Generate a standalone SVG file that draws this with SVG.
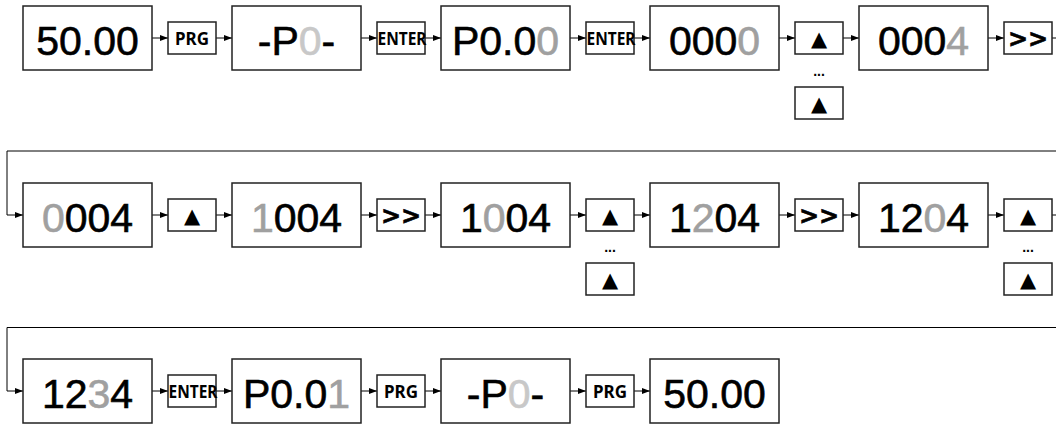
<svg xmlns="http://www.w3.org/2000/svg" width="1056" height="425" viewBox="0 0 1056 425">
<defs>
<marker id="ah" markerUnits="userSpaceOnUse" markerWidth="9" markerHeight="7" refX="8" refY="3" orient="auto"><path d="M0,0 L8,3 L0,6 z" fill="#000"/></marker>
<style>
.bx{fill:#fff;stroke:#222;stroke-width:1.5}
.sb{fill:#fff;stroke:#222;stroke-width:1.5}
.big{font-family:"Liberation Sans",Arial,sans-serif;font-size:41px;fill:#000;stroke:#000;stroke-width:0.6;text-anchor:middle}
.g{fill:#a0a0a0;stroke:#a0a0a0}
.lg{fill:#c8c8c8;stroke:#c8c8c8}
.btn{font-family:"Noto Sans","Open Sans",sans-serif;font-weight:bold;font-size:17px;fill:#000;text-anchor:middle}
.tri{font-family:"DejaVu Sans",sans-serif;font-size:21px;fill:#000;text-anchor:middle}
.chev{font-family:"DejaVu Sans",sans-serif;font-weight:bold;font-size:24px;fill:#000;stroke:#000;stroke-width:0.6;text-anchor:middle}
.dots{font-family:"Liberation Sans",Arial,sans-serif;font-weight:bold;font-size:14px;fill:#000;text-anchor:middle}
.ln{fill:none;stroke:#000;stroke-width:1}
.ar{fill:none;stroke:#000;stroke-width:1;marker-end:url(#ah)}
</style>
</defs>
<g id="connectors">
<line class="ar" x1="152" y1="38" x2="168" y2="38"/>
<line class="ar" x1="216" y1="38" x2="232" y2="38"/>
<line class="ar" x1="361" y1="38" x2="377" y2="38"/>
<line class="ar" x1="425" y1="38" x2="441" y2="38"/>
<line class="ar" x1="570" y1="38" x2="586" y2="38"/>
<line class="ar" x1="634" y1="38" x2="650" y2="38"/>
<line class="ar" x1="779" y1="38" x2="795" y2="38"/>
<line class="ar" x1="843" y1="38" x2="859" y2="38"/>
<line class="ar" x1="988" y1="38" x2="1004" y2="38"/>
<line class="ln" x1="1052" y1="38" x2="1056" y2="38"/>
<polyline class="ar" points="1056,151 7,151 7,215 23,215"/>
<line class="ar" x1="152" y1="215" x2="168" y2="215"/>
<line class="ar" x1="216" y1="215" x2="232" y2="215"/>
<line class="ar" x1="361" y1="215" x2="377" y2="215"/>
<line class="ar" x1="425" y1="215" x2="441" y2="215"/>
<line class="ar" x1="570" y1="215" x2="586" y2="215"/>
<line class="ar" x1="634" y1="215" x2="650" y2="215"/>
<line class="ar" x1="779" y1="215" x2="795" y2="215"/>
<line class="ar" x1="843" y1="215" x2="859" y2="215"/>
<line class="ar" x1="988" y1="215" x2="1004" y2="215"/>
<line class="ln" x1="1052" y1="215" x2="1056" y2="215"/>
<polyline class="ar" points="1056,327.5 7,327.5 7,391 23,391"/>
<line class="ar" x1="152" y1="391" x2="168" y2="391"/>
<line class="ar" x1="216" y1="391" x2="232" y2="391"/>
<line class="ar" x1="361" y1="391" x2="377" y2="391"/>
<line class="ar" x1="425" y1="391" x2="441" y2="391"/>
<line class="ar" x1="570" y1="391" x2="586" y2="391"/>
<line class="ar" x1="634" y1="391" x2="650" y2="391"/>
</g>
<!-- Row 1 -->
<g id="r1n1"><rect class="bx" x="23" y="6" width="129" height="64"/><text class="big" x="87.5" y="55">50.00</text></g>
<g id="r1b1"><rect class="sb" x="168" y="22" width="48" height="32"/><text class="btn" x="192" y="44.5" textLength="34" lengthAdjust="spacingAndGlyphs">PRG</text></g>
<g id="r1n2"><rect class="bx" x="232" y="6" width="129" height="64"/><text class="big" x="296.5" y="55">-P<tspan class="lg">0</tspan>-</text></g>
<g id="r1b2"><rect class="sb" x="377" y="22" width="48" height="32"/><text class="btn" x="402" y="44.5" textLength="49" lengthAdjust="spacingAndGlyphs">ENTER</text></g>
<g id="r1n3"><rect class="bx" x="441" y="6" width="129" height="64"/><text class="big" x="505.5" y="55">P0.0<tspan class="g">0</tspan></text></g>
<g id="r1b3"><rect class="sb" x="586" y="22" width="48" height="32"/><text class="btn" x="611" y="44.5" textLength="49" lengthAdjust="spacingAndGlyphs">ENTER</text></g>
<g id="r1n4"><rect class="bx" x="650" y="6" width="129" height="64"/><text class="big" x="714.5" y="55">000<tspan class="g">0</tspan></text></g>
<g id="r1b4"><rect class="sb" x="795" y="22" width="48" height="32"/><text class="tri" x="819" y="45.5">▲</text></g>
<g id="r1d4"><text class="dots" x="819" y="76">...</text></g>
<g id="r1b4b"><rect class="sb" x="795" y="87" width="48" height="32"/><text class="tri" x="819" y="110.5">▲</text></g>
<g id="r1n5"><rect class="bx" x="859" y="6" width="129" height="64"/><text class="big" x="923.5" y="55">000<tspan class="g">4</tspan></text></g>
<g id="r1b5"><rect class="sb" x="1004" y="22" width="48" height="32"/><text class="chev" x="1028" y="47">&gt;&gt;</text></g>
<!-- Row 2 -->
<g id="r2n1"><rect class="bx" x="23" y="183" width="129" height="64"/><text class="big" x="87.5" y="232"><tspan class="g">0</tspan>004</text></g>
<g id="r2b1"><rect class="sb" x="168" y="199" width="48" height="32"/><text class="tri" x="192" y="222.5">▲</text></g>
<g id="r2n2"><rect class="bx" x="232" y="183" width="129" height="64"/><text class="big" x="296.5" y="232"><tspan class="g">1</tspan>004</text></g>
<g id="r2b2"><rect class="sb" x="377" y="199" width="48" height="32"/><text class="chev" x="401" y="224">&gt;&gt;</text></g>
<g id="r2n3"><rect class="bx" x="441" y="183" width="129" height="64"/><text class="big" x="505.5" y="232">1<tspan class="g">0</tspan>04</text></g>
<g id="r2b3"><rect class="sb" x="586" y="199" width="48" height="32"/><text class="tri" x="610" y="222.5">▲</text></g>
<g id="r2d3"><text class="dots" x="610" y="252">...</text></g>
<g id="r2b3b"><rect class="sb" x="586" y="263" width="48" height="32"/><text class="tri" x="610" y="286.5">▲</text></g>
<g id="r2n4"><rect class="bx" x="650" y="183" width="129" height="64"/><text class="big" x="714.5" y="232">1<tspan class="g">2</tspan>04</text></g>
<g id="r2b4"><rect class="sb" x="795" y="199" width="48" height="32"/><text class="chev" x="819" y="224">&gt;&gt;</text></g>
<g id="r2n5"><rect class="bx" x="859" y="183" width="129" height="64"/><text class="big" x="923.5" y="232">12<tspan class="g">0</tspan>4</text></g>
<g id="r2b5"><rect class="sb" x="1004" y="199" width="48" height="32"/><text class="tri" x="1028" y="222.5">▲</text></g>
<g id="r2d5"><text class="dots" x="1028" y="252">...</text></g>
<g id="r2b5b"><rect class="sb" x="1004" y="263" width="48" height="32"/><text class="tri" x="1028" y="286.5">▲</text></g>
<!-- Row 3 -->
<g id="r3n1"><rect class="bx" x="23" y="359" width="129" height="64"/><text class="big" x="87.5" y="408">12<tspan class="g">3</tspan>4</text></g>
<g id="r3b1"><rect class="sb" x="168" y="375" width="48" height="32"/><text class="btn" x="193" y="397.5" textLength="49" lengthAdjust="spacingAndGlyphs">ENTER</text></g>
<g id="r3n2"><rect class="bx" x="232" y="359" width="129" height="64"/><text class="big" x="296.5" y="408">P0.0<tspan class="g">1</tspan></text></g>
<g id="r3b2"><rect class="sb" x="377" y="375" width="48" height="32"/><text class="btn" x="401" y="397.5" textLength="34" lengthAdjust="spacingAndGlyphs">PRG</text></g>
<g id="r3n3"><rect class="bx" x="441" y="359" width="129" height="64"/><text class="big" x="505.5" y="408">-P<tspan class="lg">0</tspan>-</text></g>
<g id="r3b3"><rect class="sb" x="586" y="375" width="48" height="32"/><text class="btn" x="610" y="397.5" textLength="34" lengthAdjust="spacingAndGlyphs">PRG</text></g>
<g id="r3n4"><rect class="bx" x="650" y="359" width="129" height="64"/><text class="big" x="714.5" y="408">50.00</text></g>
</svg>
